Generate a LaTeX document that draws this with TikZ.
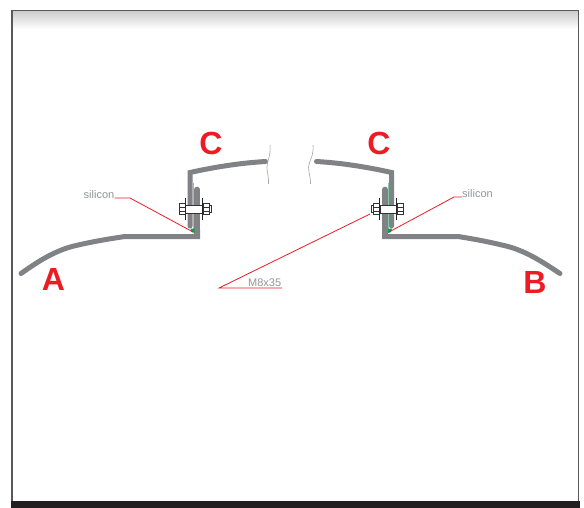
\documentclass[tikz,border=0pt]{standalone}
\usepackage{fontspec}
\setmainfont{Liberation Sans}
\definecolor{sheet}{HTML}{808285}
\definecolor{frameC}{HTML}{58595B}
\definecolor{barC}{HTML}{231F20}
\definecolor{leader}{HTML}{ED1C24}
\definecolor{sealL}{HTML}{7FCBA4}
\definecolor{sealD}{HTML}{00A651}
\definecolor{labelC}{HTML}{939598}
\tikzset{
  x=1pt,y=-1pt,
  sheetline/.style={draw=sheet,line width=5pt,line join=miter,line cap=round},
  flange/.style={draw=sheet,line width=5.6pt,line cap=round},
  boltpart/.style={draw=black!80,line width=0.6pt,fill=white},
  leaderline/.style={draw=leader,line width=0.8pt},
  wavy/.style={draw=black!35,line width=0.6pt},
  seal/.style={draw=sealL,line width=1.3pt},
  big/.style={text=leader,font=\fontsize{32}{32}\selectfont\bfseries,inner sep=0pt},
  small/.style={text=labelC,font=\fontsize{11}{11}\selectfont,inner sep=0pt},
}
\begin{document}
\begin{tikzpicture}
\useasboundingbox (0,0) rectangle (584,508);
\fill[white] (0,0) rectangle (584,508);
\shade[top color=black!20,bottom color=white] (12,11) rectangle (578,29);
\draw[frameC,line width=1.4pt] (12,501) -- (12,10.5) -- (578.5,10.5) -- (578.5,501);
\fill[barC] (11,501) rectangle (579.5,508);

% left sheet A with upstand
\draw[sheetline] (21,273.5) .. controls (36,263) and (52,252) .. (72,246.5) .. controls (90,242) and (108,239) .. (125,236.5) -- (197.5,236.5) -- (197.5,230);
\draw[flange] (197,189.5) -- (197,236);
% left channel C
\draw[sheetline] (265.5,161.5) .. controls (240,163) and (215,167) .. (190,172.5) -- (190,226);
% left seal
\draw[seal] (193.7,183) -- (193.7,232);
\fill[sealD] (190.5,228.5) -- (194.5,228.5) -- (194.5,233) -- (191.5,232) -- cycle;

% right sheet B with upstand
\draw[sheetline] (560,273.5) .. controls (544,263) and (528,252) .. (508,246.5) .. controls (490,242) and (474,239) .. (458,236.5) -- (384.5,236.5) -- (384.5,230);
\draw[flange] (385,189.5) -- (385,236);
% right channel C
\draw[sheetline] (316.5,161.5) .. controls (342,163) and (367,167) .. (391.5,172.5) -- (391.5,226);
% right seal
\draw[seal] (388.2,183) -- (388.2,232);
\fill[sealD] (388,228.5) -- (392,228.5) -- (391,232) -- (388,233) -- cycle;

% left bolt
\draw[boltpart] (185,205) rectangle (203,213);
\draw[boltpart] (179.5,203.5) rectangle (185,214.5);
\draw[boltpart,fill=none] (179.5,207) -- (185,207) (179.5,211) -- (185,211);
\draw[boltpart] (203,203.5) rectangle (209,214.5);
\draw[boltpart,fill=none] (203,207) -- (209,207) (203,211) -- (209,211);
\draw[boltpart] (209,205.5) rectangle (211,212.5);
\draw[draw=black!85,line width=1pt] (185,198.5) -- (185,219.5) (202,198.5) -- (202,219.5);

% right bolt
\draw[boltpart] (380,205) rectangle (397,213);
\draw[boltpart] (373,203.5) rectangle (379.5,214.5);
\draw[boltpart,fill=none] (373,207) -- (379.5,207) (373,211) -- (379.5,211);
\draw[boltpart] (397,203.5) rectangle (403,214.5);
\draw[boltpart,fill=none] (397,207) -- (403,207) (397,211) -- (403,211);
\draw[boltpart] (371,205.5) rectangle (373,212.5);
\draw[draw=black!85,line width=1pt] (379.5,198.5) -- (379.5,219.5) (396.5,198.5) -- (396.5,219.5);

% break marks
\draw[wavy] (270,145) .. controls (271,156) and (267,161) .. (267,167) .. controls (267,173) and (269,178) .. (268.5,184);
\draw[wavy] (313,145) .. controls (314,156) and (309,161) .. (308.5,167) .. controls (308.5,173) and (311,178) .. (310.5,184);

% labels
\node[big] (lblA) at (53.5,279.5) {A};
\node[big] (lblB) at (535,282.5) {B};
\node[big] (lblC1) at (211,143) {C};
\node[big] (lblC2) at (379,143) {C};
\node[small,anchor=east] (sil1) at (114.5,195) {silicon};
\node[small,anchor=west] (sil2) at (462,194) {silicon};
\node[small,anchor=west] (bolt) at (248,283) {M8x35};

% leaders
\coordinate (t1) at (193,232);
\coordinate (t2) at (389,232);
\coordinate (t3) at (370,214);
\coordinate (root) at (219,288);
\coordinate (end3) at (282,288);
\draw[leaderline] (114.5,198) -- (130,198) -- (t1);
\draw[leaderline] (462,197) -- (454,197) -- (t2);
\draw[leaderline] (t3) -- (root) -- (end3);
\end{tikzpicture}
\end{document}
